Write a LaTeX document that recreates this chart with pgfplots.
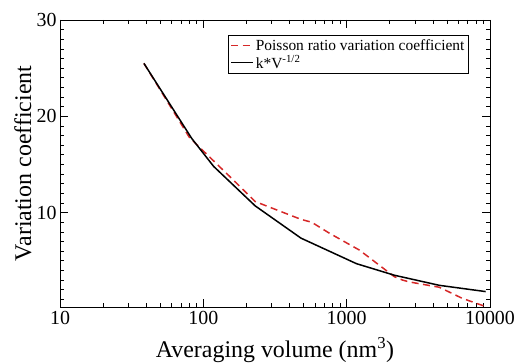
\documentclass[border=0pt]{standalone}
\usepackage{pgfplots}
\pgfplotsset{compat=1.18}
\usepackage{fontspec}
\setmainfont{Liberation Serif}
\definecolor{dred}{RGB}{214,40,40}
\begin{document}
\begin{tikzpicture}
\path[use as bounding box] (-60bp,-56bp) rectangle (463bp,307bp);
\begin{axis}[
  at={(0,0)}, anchor=south west,
  scale only axis, width=430bp, height=287bp,
  xmode=log, xmin=10, xmax=10000,
  ymin=0.2, ymax=30,
  xtick={10,100,1000,10000}, xticklabels={10,100,1000,10000},
  ytick={10,20,30},
  minor ytick={1,2,3,4,5,6,7,8,9,11,12,13,14,15,16,17,18,19,21,22,23,24,25,26,27,28,29},
  tick align=inside,
  major tick length=8bp, minor tick length=4.5bp,
  xtick pos=both, ytick pos=both,
  axis line style={line width=0.8bp},
  every tick/.style={black, line width=0.7bp},
  /pgf/number format/assume math mode=true,
  tick label style={font=\fontsize{20}{22}\selectfont},
  xticklabel style={yshift=-1bp},
  xlabel={Averaging volume (nm\textsuperscript{3})},
  ylabel={Variation coefficient},
  label style={font=\fontsize{24}{26}\selectfont},
  xlabel style={at={(rel axis cs:0.5,0)}, anchor=base, yshift=-50bp},
  ylabel style={at={(rel axis cs:0,0.5)}, anchor=center, yshift=37bp},
  legend style={at={(rel axis cs:0.3907,0.9477)}, anchor=north west, draw=black, line width=0.8bp,
    font=\fontsize{15.5}{16}\selectfont, inner xsep=2bp, inner ysep=2bp, cells={anchor=west}},
  legend image code/.code={\draw[#1] (0bp,0bp) -- (22bp,0bp);},
]
\addplot[dred, line width=1.5bp, dash pattern=on 7bp off 4.5bp] coordinates {
 (38.5,25.5) (80,17.8) (154,13.7) (230,11.15) (480,9.3) (570,9.0) (760,7.85)
 (1230,6.1) (2150,3.35) (2450,3.0) (2740,2.8) (4430,2.25) (6400,1.1) (9300,0.25)
};
\addlegendentry{Poisson ratio variation coefficient}
\addplot[black, line width=1.5bp] coordinates {
 (38.5,25.5) (83,17.7) (118,14.8) (230,10.7) (480,7.35) (1170,4.7) (2150,3.5) (4430,2.45) (9330,1.8)
};
\addlegendentry{k*V\textsuperscript{-1/2}}
\end{axis}
\end{tikzpicture}
\end{document}
